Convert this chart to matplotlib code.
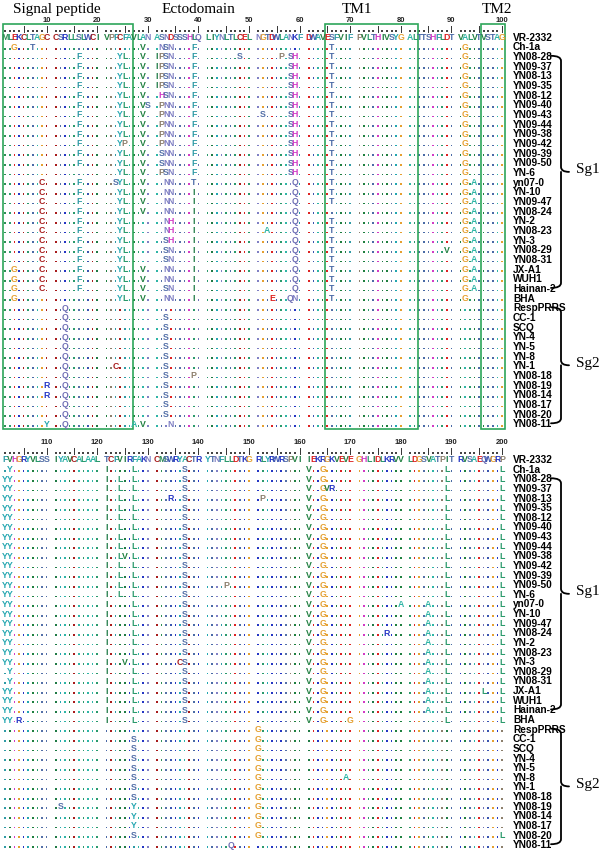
import matplotlib
matplotlib.use("Agg")
import matplotlib.pyplot as plt
from matplotlib.path import Path
from matplotlib.patches import PathPatch, Rectangle

# ---------------- data ----------------
ref_first = "MLEKCLTAGCCSRLLSLWCIVPFCFAVLANASNDSSSHLQLIYNLTLCELNGTDWLANKFDWAVESFVIFPVLTHIVSYGALTTSHFLDTVALVTVSTAG"
ref_second = "FVHGRYVLSSIYAVCALAALTCFVIRFAKNCMSWRYACTRYTNFLLDTKGRLYRWRSPVIIEKRGKVEVEGHLIDLKRVVLDGSVATPITRVSAEQWGRP"

strains = ["VR-2332", "Ch-1a", "YN08-28", "YN09-37", "YN08-13", "YN09-35", "YN08-12",
           "YN09-40", "YN09-43", "YN09-44", "YN09-38", "YN09-42", "YN09-39", "YN09-50",
           "YN-6", "yn07-0", "YN-10", "YN09-47", "YN08-24", "YN-2", "YN08-23", "YN-3",
           "YN08-29", "YN08-31", "JX-A1", "WUH1", "Hainan-2", "BHA", "RespPRRS", "CC-1",
           "SCQ", "YN-4", "YN-5", "YN-8", "YN-1", "YN08-18", "YN08-19", "YN08-14",
           "YN08-17", "YN08-20", "YN08-11"]

# substitutions relative to VR-2332, residues 1-100
subs_first = [
    "",
    "3G 7T 29V 32N 33S 34N 39F 66T 92G",
    "16F 24Y 25L 29V 31I 32P 33S 34N 39F 48S 56P 58S 59H 66T 92G",
    "16F 24Y 25L 29V 31I 32P 33S 34N 39F 58S 59H 66T 92G",
    "16F 24Y 25L 29V 31I 32P 33S 34N 39F 58S 59H 66T 92G",
    "16F 24Y 25L 29V 31I 32P 33S 34N 39F 58S 59H 66T 92G",
    "16F 24Y 25L 29V 32H 33S 34N 39F 58S 59H 66T 92G",
    "16F 24Y 25L 29V 30S 32P 33N 34N 39F 58S 59H 66T 92G",
    "16F 24Y 25L 29V 32P 33N 34N 39F 52S 58S 59H 66T 92G",
    "16F 24Y 25L 29V 32P 33N 34N 39F 58S 59H 66T 92G",
    "16F 24Y 25L 29V 32P 33N 34N 39F 58S 59H 66T 92G",
    "16F 24Y 25P 29V 32P 33N 34N 39F 58S 59H 66T 92G",
    "16F 24Y 25L 29V 32S 33N 34N 39F 58S 59H 66T 92G",
    "16F 24Y 25L 29V 32S 33N 34N 39F 58S 59H 66T 92G",
    "24Y 25L 29V 32P 33S 34N 39F 58S 59H 66T 92G",
    "9C 16F 23S 24Y 25L 29V 33N 34N 39T 59Q 66T 92G 94A",
    "9C 16F 24Y 25L 29V 33N 34N 39I 59Q 66T 92G 94A",
    "9C 16F 24Y 25L 29V 33N 34N 39I 59Q 66T 92G 94A",
    "9C 16F 24Y 25L 29V 33N 34N 39I 59Q 92G 94A",
    "9C 16F 24Y 25L 33N 34H 39I 59Q 66T 92G 94A",
    "9C 16F 24Y 25L 33N 34H 39I 53A 59Q 66T 92G 94A",
    "9C 16F 24Y 25L 33S 34H 39I 59Q 66T 92G 94A",
    "9C 16F 24Y 25L 33S 34N 39I 59Q 66T 89V 92G 94A",
    "9C 16F 24Y 25L 33S 34N 39I 59Q 66T 92G 94A",
    "3G 9C 16F 24Y 25L 29V 33N 34N 39I 59Q 66T 92G 94A",
    "3G 9C 16F 24Y 25L 29V 33N 34N 39I 59Q 66T 92G 94A",
    "3G 9C 16F 24Y 25L 29V 33S 34N 39I 59Q 66T 92G 94A",
    "3G 24Y 25L 29V 33N 34N 39I 54E 58Q 59N 66T 92G",
    "13Q",
    "13Q 33S",
    "13Q 33S",
    "13Q 33S",
    "13Q 33S",
    "13Q 33S",
    "13Q 23C 33S",
    "13Q 33S 39P",
    "10R 13Q 33S",
    "10R 13Q 33S",
    "13Q 33S",
    "13Q 33S",
    "10Y 13Q 27A 29V 34N",
]

# substitutions relative to VR-2332, residues 101-200
subs_second = [
    "",
    "102Y 121I 127L 137S 161V 164G 189L 200L",
    "101Y 102Y 121I 124L 127L 137S 161V 164G 189L 200L",
    "101Y 102Y 121I 124L 127L 137S 161V 164G 165V 166R 189L 200L",
    "101Y 102Y 121I 124L 127L 134R 137S 152P 161V 164G 189L 200L",
    "101Y 102Y 121I 124L 127L 137S 161V 164G 189L 200L",
    "101Y 102Y 121I 124L 127L 137S 161V 164G 189L 200L",
    "101Y 102Y 121I 124L 127L 137S 161V 164G 189L 200L",
    "101Y 102Y 121I 124L 127L 137S 161V 164G 189L 200L",
    "101Y 102Y 121I 124L 127L 137S 161V 164G 189L 200L",
    "101Y 102Y 121I 124L 125V 127L 137S 161V 164G 189L 200L",
    "101Y 102Y 121I 124L 127L 137S 161V 164G 189L 200L",
    "101Y 102Y 121I 124L 127L 137S 161V 164G 189L 200L",
    "101Y 102Y 121I 124L 127L 137S 145P 161V 164G 189L 200L",
    "101Y 102Y 121I 124L 127L 137S 161V 164G 189L 200L",
    "101Y 102Y 121I 127L 137S 161V 164G 180A 185A 189L 200L",
    "101Y 102Y 121I 127L 137S 161V 164G 185A 189L 200L",
    "101Y 102Y 121I 127L 137S 161V 164G 185A 189L 200L",
    "101Y 102Y 121I 127L 137S 161V 164G 177R 185A 189L 200L",
    "101Y 102Y 121I 127L 137S 161V 164G 185A 189L 200L",
    "101Y 102Y 121I 127L 137S 161V 164G 185A 189L 200L",
    "101Y 102Y 121I 125V 127L 136C 137S 161V 164G 185A 189L 200L",
    "102Y 121I 127L 137S 161V 164G 185A 189L 200L",
    "102Y 121I 127L 137S 161V 164G 185A 189L 200L",
    "101Y 102Y 121I 127L 137S 161V 164G 185A 189L 196L 200L",
    "101Y 102Y 121I 127L 137S 161V 164G 185A 189L 200L",
    "101Y 102Y 121I 127L 137S 161V 164G 185A 189L 200L",
    "101Y 102Y 104R 121I 127L 137S 161V 164G 170G 189L 200L",
    "151G",
    "127S 151G",
    "127S 151G",
    "127S 151G",
    "127S 151G",
    "127S 151G 169A",
    "127S 151G",
    "127S 151G",
    "112S 127Y 151G",
    "127Y 151G",
    "127Y 151G",
    "127S 151G 200L",
    "146Q",
]

domains = ["Signal peptide", "Ectodomain", "TM1", "TM2"]
boxed_spans = [(1, 26), (65, 82), (96, 100)]
groups = [("Sg1", 3, 27), ("Sg2", 29, 41)]

# ---------------- style ----------------
aa_colors = {
    "A": "#2fb5a6", "V": "#1f7f3f", "I": "#1f7a45", "L": "#2b9a6c", "M": "#2f8f55",
    "F": "#2f9aa5", "Y": "#22a6b0", "W": "#3a55b0", "C": "#a81c1c", "G": "#e5a030",
    "P": "#8c7f6c", "S": "#5470a8", "T": "#4a6aa6", "N": "#8080c4", "Q": "#6f6fb5",
    "H": "#d23ac6", "D": "#dd2222", "E": "#dd2222", "K": "#2536c4", "R": "#2536c4",
}
seq_font = ["Liberation Sans Narrow", "Liberation Sans", "DejaVu Sans"]
serif_font = ["Liberation Serif", "DejaVu Serif"]
box_color = "#2ea65a"

W, H = 603, 853
fig = plt.figure(figsize=(W / 100, H / 100), dpi=100)
ax = fig.add_axes([0, 0, 1, 1])
ax.set_xlim(0, W)
ax.set_ylim(H, 0)
ax.axis("off")

PITCH = 4.6
X0 = 5.2
LETTER_SIZE = 6.3


def col_x(k):
    """k = 1..100 column inside a panel"""
    return X0 + (k - 1 + (k - 1) // 10) * PITCH


def parse(s):
    out = {}
    for tok in s.split():
        out[int(tok[:-1])] = tok[-1]
    return out


panels = [
    dict(ref=ref_first, offset=0, subs=subs_first, y0=37.5, dy=9.67, num_y=20.5, rul_y=30.5),
    dict(ref=ref_second, offset=100, subs=subs_second, y0=460.0, dy=9.63, num_y=443.0, rul_y=452.5),
]

LABEL_X = 513

for p in panels:
    ref, off, subs = p["ref"], p["offset"], p["subs"]
    # ruler
    dx_, dy_ = [], []
    for k in range(1, 101):
        x = col_x(k)
        if k % 5 == 0:
            ax.plot([x, x], [p["rul_y"] - 4, p["rul_y"] + 2], color="#333333", lw=0.7)
        else:
            dx_.append(x)
            dy_.append(p["rul_y"] + 1.5)
        if k % 10 == 0:
            ax.text(x, p["num_y"], str(off + k), ha="center", va="center", fontsize=5.5,
                    fontweight="bold", family=seq_font, color="#222222")
    ax.scatter(dx_, dy_, s=0.8, marker="s", color="#444444", linewidths=0)

    dots_x, dots_y, dots_c = [], [], []
    for r, name in enumerate(strains):
        y = p["y0"] + r * p["dy"]
        muts = parse(subs[r])
        for k in range(1, 101):
            pos = off + k
            x = col_x(k)
            ra = ref[k - 1]
            if r == 0:
                ax.text(x, y, ra, ha="center", va="center", fontsize=LETTER_SIZE,
                        fontweight="bold", family=seq_font, color=aa_colors[ra])
            elif pos in muts:
                a = muts[pos]
                ax.text(x, y, a, ha="center", va="center", fontsize=LETTER_SIZE,
                        fontweight="bold", family=seq_font, color=aa_colors[a])
            else:
                dots_x.append(x)
                dots_y.append(y + 2.6)
                dots_c.append(aa_colors[ra])
        ax.text(LABEL_X, y, name, ha="left", va="center", fontsize=7.3, fontweight="bold",
                family=seq_font, color="black")
    ax.scatter(dots_x, dots_y, s=1.6, marker="s", c=dots_c, linewidths=0)


def brace(ax, x_start, x_spine, x_tip, y_top, y_bot, lw=1.3):
    ym = (y_top + y_bot) / 2
    r = 5
    verts = [
        (x_start, y_top), (x_spine, y_top), (x_spine, y_top + r),
        (x_spine, ym - r),
        (x_spine, ym), (x_tip, ym),
        (x_spine, ym), (x_spine, ym + r),
        (x_spine, y_bot - r),
        (x_spine, y_bot), (x_start, y_bot),
    ]
    codes = [Path.MOVETO, Path.CURVE3, Path.CURVE3, Path.LINETO,
             Path.CURVE3, Path.CURVE3, Path.MOVETO, Path.CURVE3,
             Path.LINETO, Path.CURVE3, Path.CURVE3]
    ax.add_patch(PathPatch(Path(verts, codes), fill=False, lw=lw, color="black",
                           capstyle="round"))


for p in panels:
    for name, r0, r1 in groups:
        y_top = p["y0"] + (r0 - 1) * p["dy"]
        y_bot = p["y0"] + (r1 - 1) * p["dy"]
        brace(ax, 551, 561, 569, y_top, y_bot)
        ax.text(576, (y_top + y_bot) / 2 - 3, name, ha="left", va="center",
                fontsize=11, family=serif_font, color="black")

# green boxes on the first panel
p = panels[0]
box_top = 24.5
box_bot = p["y0"] + 40 * p["dy"] + 6
for a, b in boxed_spans:
    xl = col_x(a) - 2.4
    xr = col_x(b) + 3.2
    ax.add_patch(Rectangle((xl, box_top), xr - xl, box_bot - box_top, fill=False,
                           edgecolor=box_color, lw=1.2))

# domain titles
title_x = [57, 198, 357, 497]
for t, x in zip(domains, title_x):
    ax.text(x, 9, t, ha="center", va="center", fontsize=11, family=serif_font, color="black")

fig.savefig("out.png", dpi=100)
